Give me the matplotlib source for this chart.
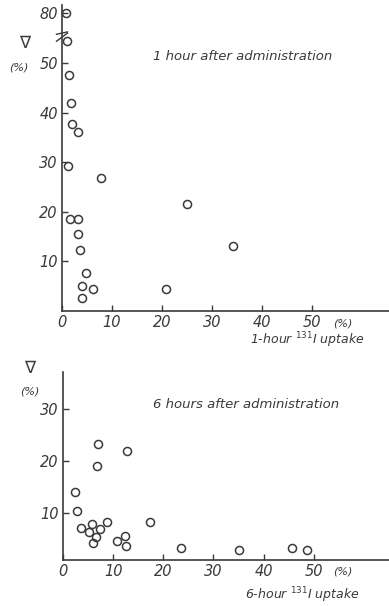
"""
Flow velocity vs. 131I uptake, 1 hour and 6 hours after administration.
"""
import numpy as np
from matplotlib import pyplot as plt

# top panel: 1-hour uptake (%) vs V (%)
uptake_1h = [0.8, 1.0, 1.4, 1.8, 2.0, 3.2, 1.2, 7.8, 1.6, 3.2, 3.2, 3.6,
             4.8, 4.0, 6.2, 4.0, 20.8, 25.0, 34.2]
v_1h = [80, 54.4, 47.6, 41.9, 37.7, 36.1, 29.2, 26.9, 18.5, 18.5, 15.5, 12.4,
        7.6, 5.0, 4.4, 2.7, 4.4, 21.5, 13.2]

# bottom panel: 6-hour uptake (%) vs V (%)
uptake_6h = [7.0, 6.8, 12.8, 2.4, 2.8, 3.6, 5.2, 5.8, 7.4, 8.8, 6.6, 6.0,
             10.8, 12.4, 12.6, 17.4, 23.6, 35.0, 45.6, 48.6]
v_6h = [23.3, 19.0, 21.9, 14.0, 10.4, 7.1, 6.3, 7.9, 6.9, 8.3, 5.4, 4.2,
        4.6, 5.6, 3.7, 8.3, 3.3, 2.9, 3.3, 2.9]

x_ticks = [0, 10, 20, 30, 40, 50]
y_ticks_1h = [10, 20, 30, 40, 50, 80]
y_ticks_6h = [10, 20, 30]

INK = "#3a3a3a"
W, H = 389, 606
BREAK, SQUEEZE = 56.0, 0.17


def _fwd(y):
    y = np.asarray(y, dtype=float)
    return np.where(y <= BREAK, y, BREAK + (y - BREAK) * SQUEEZE)


def _inv(y):
    y = np.asarray(y, dtype=float)
    return np.where(y <= BREAK, y, BREAK + (y - BREAK) / SQUEEZE)


def px(x, y):
    return x / W, 1 - y / H


def style_axes(axs):
    for side in ("top", "right"):
        axs.spines[side].set_visible(False)
    for side in ("left", "bottom"):
        axs.spines[side].set_color(INK)
        axs.spines[side].set_linewidth(1.2)
    axs.tick_params(direction="in", length=4, width=1, colors=INK,
                    labelsize=10.5, pad=3)
    for lab in axs.get_xticklabels() + axs.get_yticklabels():
        lab.set_fontstyle("italic")
        lab.set_color(INK)
    axs.set_facecolor("none")


fig = plt.figure(figsize=(W / 100, H / 100), dpi=100)

# top panel
ax1 = fig.add_axes([62 / W, 1 - 311 / H, 1 - 62 / W, (311 - 5) / H])
ax1.set_yscale("function", functions=(_fwd, _inv))
ax1.plot(uptake_1h, v_1h, "o", ms=5.8, mfc="none", mec=INK, mew=1.1,
         clip_on=False)
ax1.set_xlim(0, 65.4)
ax1.set_ylim(0, float(_inv(61.7)))
ax1.set_xticks(x_ticks)
ax1.set_yticks(y_ticks_1h)
style_axes(ax1)
# break marks across the y axis
for off in (-0.7, 0.7):
    ax1.plot([-1.1, 1.1], [BREAK + off - 0.9, BREAK + off + 0.9], color=INK,
             lw=1, clip_on=False)

# bottom panel
ax2 = fig.add_axes([63 / W, 1 - 560 / H, 1 - 63 / W, (560 - 372) / H])
ax2.plot(uptake_6h, v_6h, "o", ms=5.8, mfc="none", mec=INK, mew=1.1,
         clip_on=False)
ax2.set_xlim(0, 65.0)
ax2.set_ylim(0.96, 37.1)
ax2.set_xticks(x_ticks)
ax2.set_yticks(y_ticks_6h)
style_axes(ax2)

txt = dict(color=INK, fontstyle="italic")
fig.text(*px(25, 43), "\u2207", ha="center", va="center", fontsize=12, color=INK)
fig.text(*px(19, 67), "(%)", ha="center", va="center", fontsize=8, **txt)
fig.text(*px(153, 57), "1 hour after administration", ha="left",
         va="center", fontsize=9.5, **txt)
fig.text(*px(333, 324), "(%)", ha="left", va="center", fontsize=8, **txt)
fig.text(*px(250, 340), "1-hour $^{131}$I uptake", ha="left", va="center",
         fontsize=9, **txt)

fig.text(*px(30, 368), "\u2207", ha="center", va="center", fontsize=12, color=INK)
fig.text(*px(30, 392), "(%)", ha="center", va="center", fontsize=8, **txt)
fig.text(*px(153, 405), "6 hours after administration", ha="left",
         va="center", fontsize=9.5, **txt)
fig.text(*px(333, 572), "(%)", ha="left", va="center", fontsize=8, **txt)
fig.text(*px(245, 595), "6-hour $^{131}$I uptake", ha="left", va="center",
         fontsize=9, **txt)

plt.savefig("out.png", dpi=100, facecolor="white")
plt.close()
